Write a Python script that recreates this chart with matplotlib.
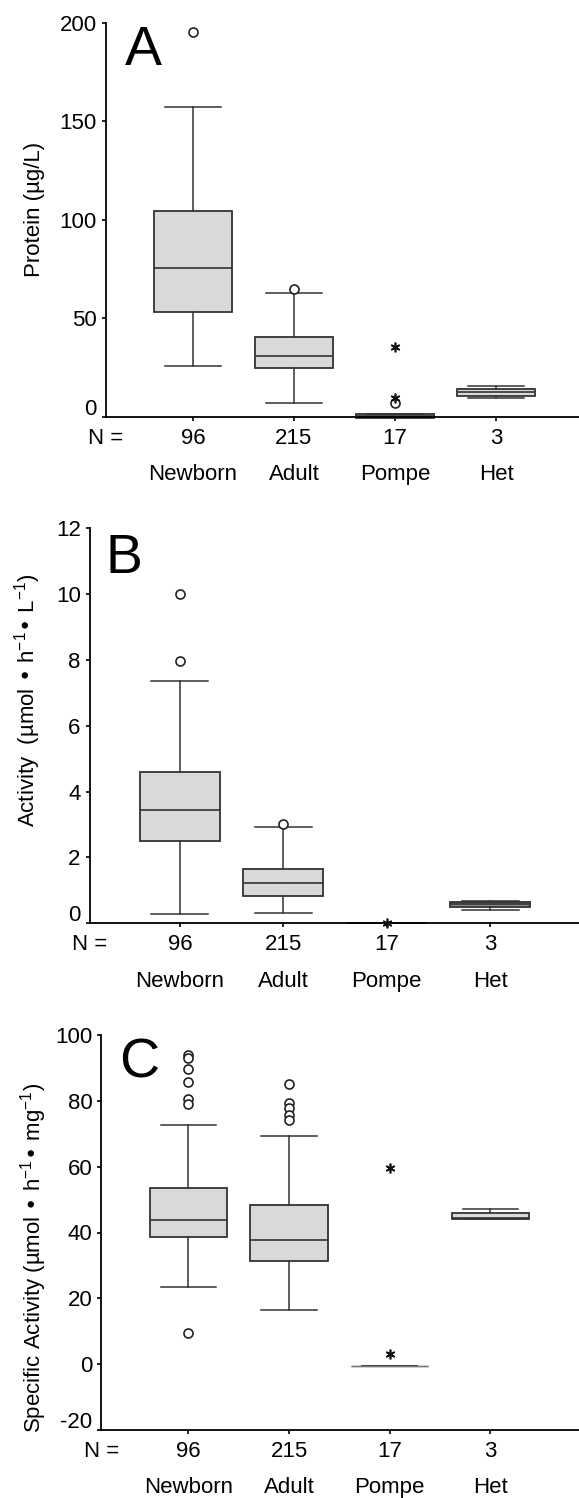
import matplotlib.pyplot as plt
from matplotlib.transforms import ScaledTranslation

# Data (box statistics per group)
cats = ['Newborn', 'Adult', 'Pompe', 'Het']
n_vals = [96, 215, 17, 3]

# Panel A - protein
a_whislo = [25.9, 7.1, 0.0, 9.5]
a_q1 = [53.3, 24.5, -0.6, 10.7]
a_med = [75.6, 31.0, 0.3, 12.4]
a_q3 = [104.4, 40.3, 1.2, 13.9]
a_whishi = [157.4, 62.6, 1.2, 15.6]
a_circles = [[195.4], [64.6], [6.8], []]
a_stars = [[], [], [35.5, 9.6], []]

# Panel B - activity
b_whislo = [0.28, 0.30, 0.0, 0.41]
b_q1 = [2.51, 0.83, 0.0, 0.51]
b_med = [3.44, 1.22, 0.0, 0.59]
b_q3 = [4.61, 1.66, 0.0, 0.65]
b_whishi = [7.37, 2.92, 0.0, 0.67]
b_circles = [[10.0, 7.98], [3.02], [], []]
b_stars = [[], [], [0.0], []]

# Panel C - specific activity
c_whislo = [23.5, 16.5, -0.5, 44.2]
c_q1 = [38.5, 31.3, -0.5, 44.2]
c_med = [43.8, 37.7, -0.5, 44.4]
c_q3 = [53.4, 48.4, -0.5, 45.8]
c_whishi = [72.6, 69.3, -0.5, 47.1]
c_circles = [[93.9, 93.0, 89.6, 85.8, 80.5, 79.0, 9.4], [85.0, 79.4, 77.9, 75.7, 74.2], [], []]
c_stars = [[], [], [59.5, 3.1], []]

plt.rcParams['font.family'] = ['Liberation Sans', 'DejaVu Sans']
plt.rcParams['mathtext.default'] = 'regular'
plt.rcParams['axes.unicode_minus'] = False

W, H = 579, 1498
fig = plt.figure(figsize=(W / 100, H / 100), dpi=100)

edge = '#333333'
fill = '#d9d9d9'
fs = 16


def panel(rect, xlim, ylim, yticks, whislo, q1, med, q3, whishi, circles, stars):
    ax = fig.add_axes(rect)
    stats = []
    for i in range(len(cats)):
        stats.append(dict(whislo=whislo[i], q1=q1[i], med=med[i], q3=q3[i],
                          whishi=whishi[i], fliers=[]))
    parts = ax.bxp(stats, positions=range(1, len(cats) + 1), widths=0.77, capwidths=0.55,
                   patch_artist=True, showfliers=False, manage_ticks=False,
                   boxprops=dict(facecolor=fill, edgecolor=edge, linewidth=1.3),
                   medianprops=dict(color=edge, linewidth=1.2),
                   whiskerprops=dict(color=edge, linewidth=1.1),
                   capprops=dict(color=edge, linewidth=1.1))
    for b in parts['boxes']:
        b.set_clip_on(False)
    for i, vals in enumerate(circles):
        ax.plot([i + 1] * len(vals), vals, 'o', mfc='white', mec='#222222',
                ms=6.5, mew=1.2, clip_on=False, zorder=4)
    for i, vals in enumerate(stars):
        ax.plot([i + 1] * len(vals), vals, marker=(6, 2, 0), ls='none', color='#111111',
                ms=7, mew=1.2, clip_on=False, zorder=4)

    ax.set_xlim(*xlim)
    ax.set_ylim(*ylim)
    ax.set_yticks(yticks)
    ax.set_xticks(range(1, len(cats) + 1))
    ax.set_xticklabels([str(n) for n in n_vals])
    for s in ['top', 'right']:
        ax.spines[s].set_visible(False)
    for s in ['left', 'bottom']:
        ax.spines[s].set_linewidth(1.3)
    ax.tick_params(axis='x', length=3, width=1.2, pad=5, labelsize=fs)
    ax.tick_params(axis='y', length=3, width=1.2, pad=3.5, labelsize=fs)
    ax.set_facecolor('none')

    # lowest y label sits a little higher, as in the original
    lbl = ax.get_yticklabels()[0]
    lbl.set_transform(lbl.get_transform() + ScaledTranslation(0, 0.10, fig.dpi_scale_trans))

    ax.annotate('N =', xy=(0, 0), xycoords='axes fraction', xytext=(0, -8),
                textcoords='offset points', ha='center', va='top', fontsize=fs)
    for i, c in enumerate(cats):
        ax.annotate(c, xy=(i + 1, 0), xycoords=('data', 'axes fraction'), xytext=(0, -34),
                    textcoords='offset points', ha='center', va='top', fontsize=fs)
    return ax, parts


# A
axA, pA = panel([0.183, 1 - 416.7 / H, 0.817, (416.7 - 22.7) / H], (0.14, 4.82), (0, 200),
                [0, 50, 100, 150, 200], a_whislo, a_q1, a_med, a_q3, a_whishi, a_circles, a_stars)
fig.text(125 / W, 1 - 65 / H, 'A', fontsize=40, ha='left', va='baseline')
fig.text(34.5 / W, 1 - 209 / H, 'Protein (µg/L)', rotation=90, ha='center', va='center', fontsize=fs)

# B
axB, pB = panel([0.155, 1 - 923.3 / H, 0.845, (923.3 - 528.3) / H], (0.128, 4.86), (0, 12),
                [0, 2, 4, 6, 8, 10, 12], b_whislo, b_q1, b_med, b_q3, b_whishi, b_circles, b_stars)
pB['boxes'][3].set_facecolor('#8c8c8c')
fig.text(105 / W, 1 - 573.3 / H, 'B', fontsize=40, ha='left', va='baseline')
fig.text(27.7 / W, 1 - 700 / H, r'Activity  (µmol • h$^{-1}$• L$^{-1}$)', rotation=90,
         ha='center', va='center', fontsize=fs)

# C
axC, pC = panel([0.1753, 1 - 1430 / H, 0.8247, (1430 - 1035) / H], (0.137, 4.88), (-20, 100),
                [-20, 0, 20, 40, 60, 80, 100], c_whislo, c_q1, c_med, c_q3, c_whishi, c_circles, c_stars)
# collapsed Pompe box shows as a thin grey line
pC['boxes'][2].set_edgecolor('#777777')
pC['boxes'][2].set_linewidth(1.0)
pC['medians'][2].set_color('#777777')
pC['medians'][2].set_linewidth(1.0)
fig.text(119 / W, 1 - 1077 / H, 'C', fontsize=40, ha='left', va='baseline')
fig.text(34 / W, 1 - 1258.3 / H, r'Specific Activity (µmol • h$^{-1}$• mg$^{-1}$)', rotation=90,
         ha='center', va='center', fontsize=fs)

fig.savefig('out.png', dpi=100)
